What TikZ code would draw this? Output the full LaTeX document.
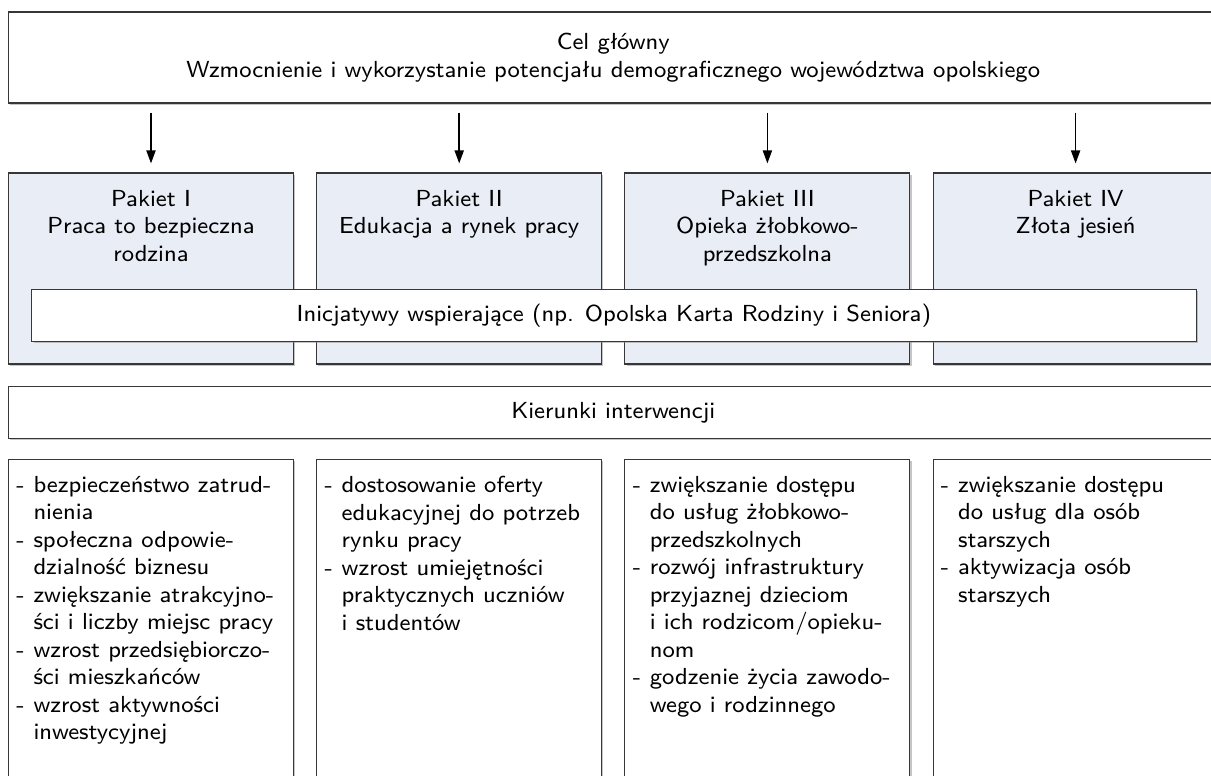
\documentclass[tikz,border=0pt]{standalone}
\usepackage{fontspec}
\usepackage{tikz}
\usetikzlibrary{arrows.meta,shadows}

\newfontfamily\schemafont{lmsans8-regular.otf}

\definecolor{pakietfill}{RGB}{233,238,246}
\definecolor{ramka}{RGB}{55,55,55}

\newcommand{\myd}{\makebox[0.74em][l]{-}}
\newcommand{\myi}{\hspace*{0.74em}}

\begin{document}
\begin{tikzpicture}[x=0.02cm,y=-0.02cm,
	font=\schemafont\fontsize{13.2}{15.65}\selectfont,
	box/.style={rectangle,draw=ramka,line width=0.6pt,fill=white,inner sep=0pt,
		drop shadow={shadow xshift=1pt,shadow yshift=-1pt,fill=black!45,opacity=0.5}},
	pakiet/.style={box,fill=pakietfill,minimum width=5.7cm,minimum height=3.82cm},
	kolumna/.style={box,minimum width=5.7cm,minimum height=8cm},
	tekst/.style={inner sep=0pt,align=center},
	lista/.style={inner sep=0pt,align=left,anchor=north west},
	strzalka/.style={-{Triangle[length=2.6mm,width=1.8mm]},line width=1pt,
		shorten <=0.18cm,shorten >=0.18cm}]

	\path[use as bounding box] (0,0) rectangle (1211,776);
	\clip (0,0) rectangle (1211,776);

	% cel glowny
	\node[box,minimum width=24.19cm,minimum height=1.82cm,align=center] (cel) at (613.25,57.5)
		{Cel główny\\Wzmocnienie i wykorzystanie potencjału demograficznego województwa opolskiego};

	% pakiety
	\node[pakiet] (p1) at (151,268.5) {};
	\node[pakiet] (p2) at (459.2,268.5) {};
	\node[pakiet] (p3) at (767.4,268.5) {};
	\node[pakiet] (p4) at (1075.6,268.5) {};

	\node[tekst,anchor=north] (t1) at (151,190) {Pakiet I\\Praca to bezpieczna\\rodzina};
	\node[tekst,anchor=north] (t2) at (459.2,190) {Pakiet II\\Edukacja a rynek pracy};
	\node[tekst,anchor=north] (t3) at (767.4,190) {Pakiet III\\Opieka żłobkowo-\\przedszkolna};
	\node[tekst,anchor=north] (t4) at (1075.6,190) {Pakiet IV\\Złota jesień};

	% strzalki
	\draw[strzalka] (cel.south -| p1.north) -- (p1.north);
	\draw[strzalka] (cel.south -| p2.north) -- (p2.north);
	\draw[strzalka] (cel.south -| p3.north) -- (p3.north);
	\draw[strzalka] (cel.south -| p4.north) -- (p4.north);

	% inicjatywy
	\node[box,minimum width=23.29cm,minimum height=1.05cm] (inic) at (613.9,315.5)
		{Inicjatywy wspierające (np. Opolska Karta Rodziny i Seniora)};

	% kierunki interwencji
	\node[box,minimum width=24.19cm,minimum height=1.03cm] (kier) at (613.25,412.5)
		{Kierunki interwencji};

	\node[kolumna] (k1) at (151,659.3) {};
	\node[kolumna] (k2) at (459.2,659.3) {};
	\node[kolumna] (k3) at (767.4,659.3) {};
	\node[kolumna] (k4) at (1075.6,659.3) {};

	\node[lista] (l1) at (16,476) {\myd bezpieczeństwo zatrud-\\\myi nienia\\
		\myd społeczna odpowie-\\\myi dzialność biznesu\\
		\myd zwiększanie atrakcyjno-\\\myi ści i liczby miejsc pracy\\
		\myd wzrost przedsiębiorczo-\\\myi ści mieszkańców\\
		\myd wzrost aktywności\\\myi inwestycyjnej};
	\node[lista] (l2) at (324.2,476) {\myd dostosowanie oferty\\\myi edukacyjnej do potrzeb\\
		\myi rynku pracy\\
		\myd wzrost umiejętności\\\myi praktycznych uczniów\\\myi i studentów};
	\node[lista] (l3) at (632.4,476) {\myd zwiększanie dostępu\\\myi do usług żłobkowo-\\
		\myi przedszkolnych\\
		\myd rozwój infrastruktury\\\myi przyjaznej dzieciom\\
		\myi i ich rodzicom/opieku-\\\myi nom\\
		\myd godzenie życia zawodo-\\\myi wego i rodzinnego};
	\node[lista] (l4) at (940.6,476) {\myd zwiększanie dostępu\\\myi do usług dla osób\\
		\myi starszych\\
		\myd aktywizacja osób\\\myi starszych};

\end{tikzpicture}
\end{document}
